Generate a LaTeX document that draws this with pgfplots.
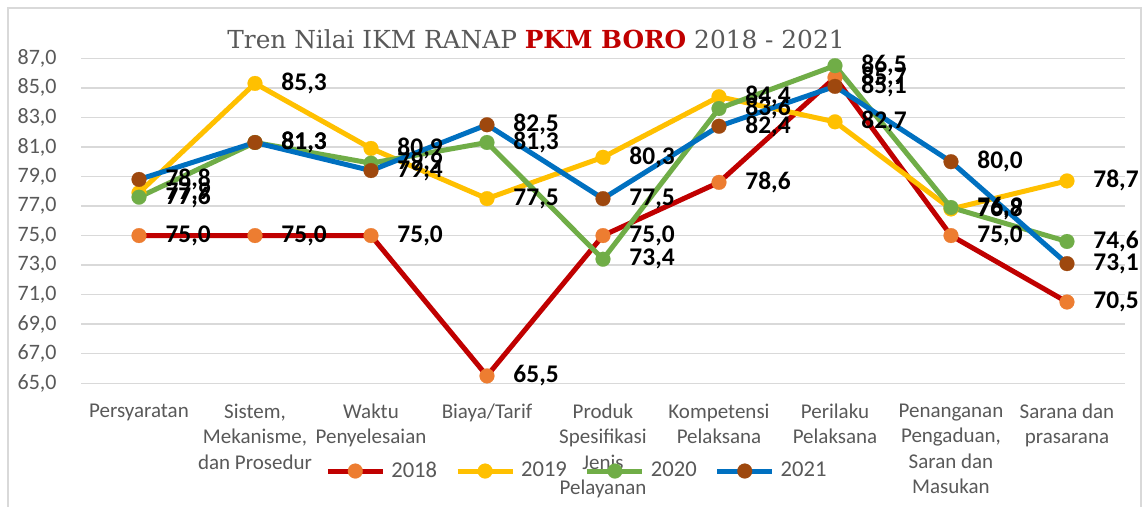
\documentclass[border=0pt]{standalone}
\usepackage{pgfplots}
\usepackage{pgfplotstable}
\pgfplotsset{compat=1.18}
\usepackage{fontspec}
\setmainfont{Carlito}
\newfontfamily\titlefont{DejaVu Serif}
\definecolor{gridgray}{HTML}{D9D9D9}
\definecolor{txtgray}{HTML}{595959}
\definecolor{c18}{HTML}{C00000}
\definecolor{m18}{HTML}{ED7D31}
\definecolor{c19}{HTML}{FFC000}
\definecolor{c20}{HTML}{70AD47}
\definecolor{c21}{HTML}{0070C0}
\definecolor{m21}{HTML}{9E480E}
\pgfplotstableread{
x y18 y19 y20 y21
0 75.0 77.9 77.6 78.8
1 75.0 85.3 81.3 81.3
2 75.0 80.9 79.9 79.4
3 65.5 77.5 81.3 82.5
4 75.0 80.3 73.4 77.5
5 78.6 84.4 83.6 82.4
6 85.7 82.7 86.5 85.1
7 75.0 76.8 76.9 80.0
8 70.5 78.7 74.6 73.1
}\data
\begin{document}
\begin{tikzpicture}
\useasboundingbox (0,0) rectangle (573pt,253.5pt);
\fill[white] (0,0) rectangle (573pt,253.5pt);
\draw[gridgray, line width=0.75pt] (4pt,-2pt) -- (4pt,249.5pt) -- (570.5pt,249.5pt) -- (570.5pt,-2pt);
\node[anchor=base, font=\titlefont\fontsize{12.4}{15}\selectfont, text=txtgray, inner sep=0pt] at (268pt,229pt)
  {Tren Nilai IKM RANAP \textcolor{c18}{\textbf{PKM BORO}} 2018 - 2021};
\begin{axis}[
  at={(40.5pt,61.85pt)}, anchor=south west,
  scale only axis, width=522pt, height=162.5pt,
  xmin=-0.5, xmax=8.5, ymin=65, ymax=87,
  clip=false,
  axis x line*=bottom, axis y line*=left,
  axis line style={draw=none},
  major tick length=0pt,
  ytick={65,67,...,87},
  xtick={0,...,8},
  xticklabels={Persyaratan, {Sistem,\\Mekanisme,\\dan Prosedur}, {Waktu\\Penyelesaian}, Biaya/Tarif, {Produk\\Spesifikasi\\Jenis\\Pelayanan}, {Kompetensi\\Pelaksana}, {Perilaku\\Pelaksana}, {Penanganan\\Pengaduan,\\Saran dan\\Masukan}, {Sarana dan\\prasarana}},
  xticklabel style={font=\fontsize{10.5}{12.75}\selectfont, text=txtgray, align=center, anchor=north, inner sep=0pt, yshift=-10pt},
  yticklabel style={font=\fontsize{11}{13}\selectfont, text=txtgray, anchor=east, inner sep=0pt, xshift=-12pt},
  ymajorgrids, grid style={gridgray, line width=0.75pt},
  /pgf/number format/.cd, use comma, fixed, fixed zerofill, precision=1, assume math mode=true,
  /pgfplots/.cd,
  every axis plot/.append style={line width=2.5pt},
  legend image code/.code={\draw[mark repeat=2, mark phase=2, #1] plot coordinates {(0pt,0pt) (13.75pt,0pt) (27.5pt,0pt)};},
  legend columns=4,
  legend style={at={(axis description cs:0.476,-0.27)}, anchor=center, draw=none, fill=none,
    font=\fontsize{11.3}{13}\selectfont, text=txtgray,
    /tikz/every even column/.append style={column sep=7pt},
    /tikz/every odd column/.append style={column sep=1pt}},
  nodes near coords style={font=\bfseries\fontsize{12.7}{14}\selectfont, text=black, anchor=west, inner sep=0pt, xshift=12pt},
]
\addplot[c18, mark=*, mark size=3.7pt, mark options={draw=m18, fill=m18, line width=0.1pt}] table[x=x, y=y18] {\data};
\addlegendentry{2018}
\addplot[c19, mark=*, mark size=3.7pt, mark options={draw=c19, fill=c19, line width=0.1pt}] table[x=x, y=y19] {\data};
\addlegendentry{2019}
\addplot[c20, mark=*, mark size=3.7pt, mark options={draw=c20, fill=c20, line width=0.1pt}] table[x=x, y=y20] {\data};
\addlegendentry{2020}
\addplot[c21, mark=*, mark size=3.7pt, mark options={draw=m21, fill=m21, line width=0.1pt}] table[x=x, y=y21] {\data};
\addlegendentry{2021}
\addplot[draw=none, mark=none, nodes near coords, forget plot] table[x=x, y=y18] {\data};
\addplot[draw=none, mark=none, nodes near coords, forget plot] table[x=x, y=y19] {\data};
\addplot[draw=none, mark=none, nodes near coords, forget plot] table[x=x, y=y20] {\data};
\addplot[draw=none, mark=none, nodes near coords, forget plot] table[x=x, y=y21] {\data};
\end{axis}
\end{tikzpicture}
\end{document}
